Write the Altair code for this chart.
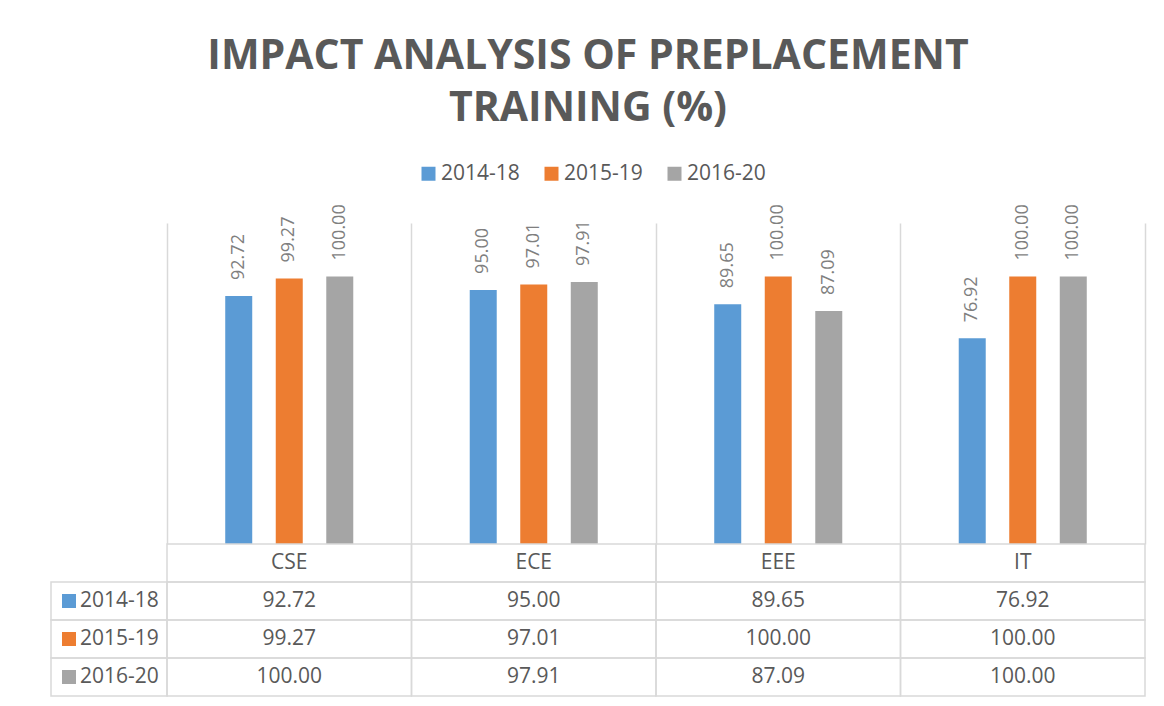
import altair as alt
import pandas as pd

categories = ["CSE", "ECE", "EEE", "IT"]
series = ["2014-18", "2015-19", "2016-20"]
v_2014_18 = [92.72, 95.00, 89.65, 76.92]
v_2015_19 = [99.27, 97.01, 100.00, 100.00]
v_2016_20 = [100.00, 97.91, 87.09, 100.00]
colors = ["#5B9BD5", "#ED7D31", "#A5A5A5"]
title_lines = ["IMPACT ANALYSIS OF PREPLACEMENT", "TRAINING (%)"]

rows = []
for s, vals in zip(series, [v_2014_18, v_2015_19, v_2016_20]):
    for c, v in zip(categories, vals):
        rows.append({"series": s, "category": c, "row": s, "value": v, "label": f"{v:.2f}"})
df = pd.DataFrame(rows)
header_df = pd.DataFrame({"category": categories, "row": ["header"] * len(categories), "label": categories})
left_df = pd.DataFrame({"series": series, "row": series})
cells_df = pd.concat([header_df, df[["category", "row", "label"]]], ignore_index=True)

W = 978
H_PLOT = 321
ROW_H = 38
LEFT_COL = 116
FONT = "Open Sans"
GRID = "#d9d9d9"
TXT = "#595959"
LW = 1.5

color_scale = alt.Scale(domain=series, range=colors)
x_scale = alt.Scale(domain=categories, paddingInner=0, paddingOuter=0)
off_scale = alt.Scale(domain=series, paddingInner=0.16, paddingOuter=1)
row_scale = alt.Scale(domain=["header"] + series, paddingInner=0, paddingOuter=0)

base = alt.Chart(df)

bars = base.mark_bar(width=27).encode(
    x=alt.X("category:N", scale=x_scale, sort=categories,
            axis=alt.Axis(labels=False, ticks=False, domain=False, grid=True,
                          gridColor=GRID, gridWidth=LW, bandPosition=0, title=None)),
    xOffset=alt.XOffset("series:N", scale=off_scale, sort=series),
    y=alt.Y("value:Q", scale=alt.Scale(domain=[0, 120], nice=False),
            axis=alt.Axis(orient="right", labels=False, ticks=False, grid=False,
                          domain=True, domainColor=GRID, domainWidth=LW, title=None)),
    color=alt.Color("series:N", scale=color_scale, sort=series,
                    legend=alt.Legend(orient="none", legendX=251, legendY=-60,
                                      direction="horizontal", title=None,
                                      symbolType="square", symbolSize=196,
                                      symbolStrokeWidth=0, labelFont=FONT,
                                      labelFontSize=21, labelColor=TXT,
                                      columnPadding=21, labelOffset=2)),
)

value_labels = base.mark_text(angle=270, align="left", baseline="middle", dx=16,
                              font=FONT, fontSize=18, color="#7f7f7f").encode(
    x=alt.X("category:N", scale=x_scale, sort=categories),
    xOffset=alt.XOffset("series:N", scale=off_scale, sort=series),
    y=alt.Y("value:Q"),
    text="label:N",
)

top = alt.layer(bars, value_labels).properties(width=W, height=H_PLOT)

cell_rects = alt.Chart(cells_df).mark_rect(filled=False, color=GRID, strokeWidth=LW).encode(
    x=alt.X("category:N", scale=x_scale, sort=categories, axis=None),
    y=alt.Y("row:N", scale=row_scale, axis=None),
)
left_rects = alt.Chart(left_df).mark_rect(filled=False, color=GRID, strokeWidth=LW).encode(
    x=alt.value(-LEFT_COL), x2=alt.value(0),
    y=alt.Y("row:N", scale=row_scale, axis=None),
)
cell_text = alt.Chart(cells_df).mark_text(font=FONT, fontSize=21, color=TXT, baseline="middle").encode(
    x=alt.X("category:N", scale=x_scale, sort=categories, axis=None),
    y=alt.Y("row:N", scale=row_scale, axis=None),
    text="label:N",
)
left_text = alt.Chart(left_df).mark_text(font=FONT, fontSize=21, color=TXT, align="left", baseline="middle").encode(
    x=alt.value(-87),
    y=alt.Y("row:N", scale=row_scale, axis=None),
    text="series:N",
)
left_squares = alt.Chart(left_df).mark_square(size=196, opacity=1, strokeWidth=0).encode(
    x=alt.value(-98),
    y=alt.Y("row:N", scale=row_scale, axis=None),
    color=alt.Color("series:N", scale=color_scale, legend=None),
)

bottom = alt.layer(cell_rects, left_rects, cell_text, left_text, left_squares).properties(
    width=W, height=4 * ROW_H)

chart = alt.vconcat(top, bottom, spacing=0, bounds="flush").resolve_scale(
    color="independent", x="independent", y="independent"
).properties(
    title=alt.TitleParams(title_lines, font=FONT, fontSize=41, fontWeight="bold",
                          color=TXT, anchor="middle", lineHeight=52, dx=-10, offset=33),
    padding={"left": 42, "top": 28, "right": 5, "bottom": 5},
).configure_view(stroke=None)

chart.save("out.html", embed_options={"renderer": "svg", "actions": False})
